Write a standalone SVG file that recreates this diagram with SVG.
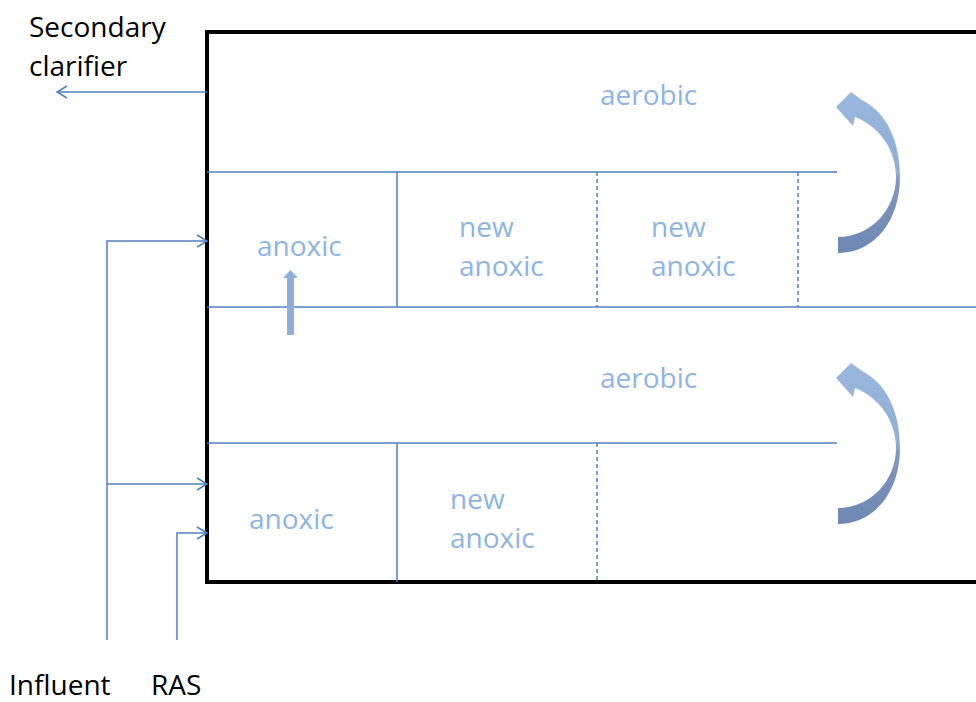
<svg xmlns="http://www.w3.org/2000/svg" width="976" height="702" viewBox="0 0 976 702">
<style>
.t{font-family:"Open Sans","Liberation Sans",sans-serif;font-size:28px;fill:#8EB4E3}
.k{font-family:"Open Sans","Liberation Sans",sans-serif;font-size:28px;fill:#000}
.ln{stroke:#4F81BD;stroke-width:1.5;fill:none}
.ds{stroke:#4F81BD;stroke-width:1.5;fill:none;stroke-dasharray:4 3}
.ah{stroke:#4F81BD;stroke-width:1.5;fill:none}
</style>
<defs>
<linearGradient id="g" x1="0" y1="0" x2="0" y2="1">
<stop offset="0" stop-color="#9AB8DD"/>
<stop offset="0.5" stop-color="#8FAED6"/>
<stop offset="0.56" stop-color="#7E97C0"/>
<stop offset="1" stop-color="#6F88B2"/>
</linearGradient>
<path id="carrow" d="M838,237 C870,237 896,210 896,177 C896,150 880,127 855,117 L853,126 L836,107 L851,92 L862,100 C886,112 900,140 900,177 C900,220 875,253 838,253 Z"/>
</defs>
<g id="tank">
<path d="M976,32 H207 V582 H976" fill="none" stroke="#000" stroke-width="4"/>
</g>
<g id="partitions">
<line class="ln" x1="207" y1="307" x2="976" y2="307"/>
<line class="ln" x1="207" y1="172" x2="837" y2="172"/>
<line class="ln" x1="207" y1="443" x2="837" y2="443"/>
<line class="ln" x1="397" y1="172" x2="397" y2="307"/>
<line class="ds" x1="597" y1="172" x2="597" y2="307"/>
<line class="ds" x1="798" y1="172" x2="798" y2="307"/>
<line class="ln" x1="397" y1="443" x2="397" y2="582"/>
<line class="ds" x1="597" y1="443" x2="597" y2="582"/>
</g>
<g id="labels">
<text class="t" x="600" y="105">aerobic</text>
<text class="t" x="257" y="256">anoxic</text>
<text class="t" x="459" y="237">new</text>
<text class="t" x="459" y="276">anoxic</text>
<text class="t" x="651" y="237">new</text>
<text class="t" x="651" y="276">anoxic</text>
<text class="t" x="600" y="388">aerobic</text>
<text class="t" x="249" y="529">anoxic</text>
<text class="t" x="450" y="509">new</text>
<text class="t" x="450" y="548">anoxic</text>
<text class="k" x="29" y="37">Secondary</text>
<text class="k" x="29" y="76">clarifier</text>
<text class="k" x="9" y="695">Influent</text>
<text class="k" x="151" y="695">RAS</text>
</g>
<g id="recycle-arrows">
<use href="#carrow" fill="url(#g)"/>
<use href="#carrow" fill="url(#g)" transform="translate(0,271)"/>
<path d="M287,335 V278 H283 L290.5,270 L298,278 H294 V335 Z" fill="#8EB0D8"/>
</g>
<g id="connectors">
<polyline class="ln" points="107,640 107,241 207,241"/>
<polyline class="ah" points="197,235 207,241 197,247"/>
<line class="ln" x1="107" y1="484" x2="207" y2="484"/>
<polyline class="ah" points="197,478 207,484 197,490"/>
<polyline class="ln" points="177,640 177,533 207,533"/>
<polyline class="ah" points="197,527 207,533 197,539"/>
<line class="ln" x1="207" y1="92" x2="57" y2="92"/>
<polyline class="ah" points="67,86 57,92 67,98"/>
</g>
</svg>
